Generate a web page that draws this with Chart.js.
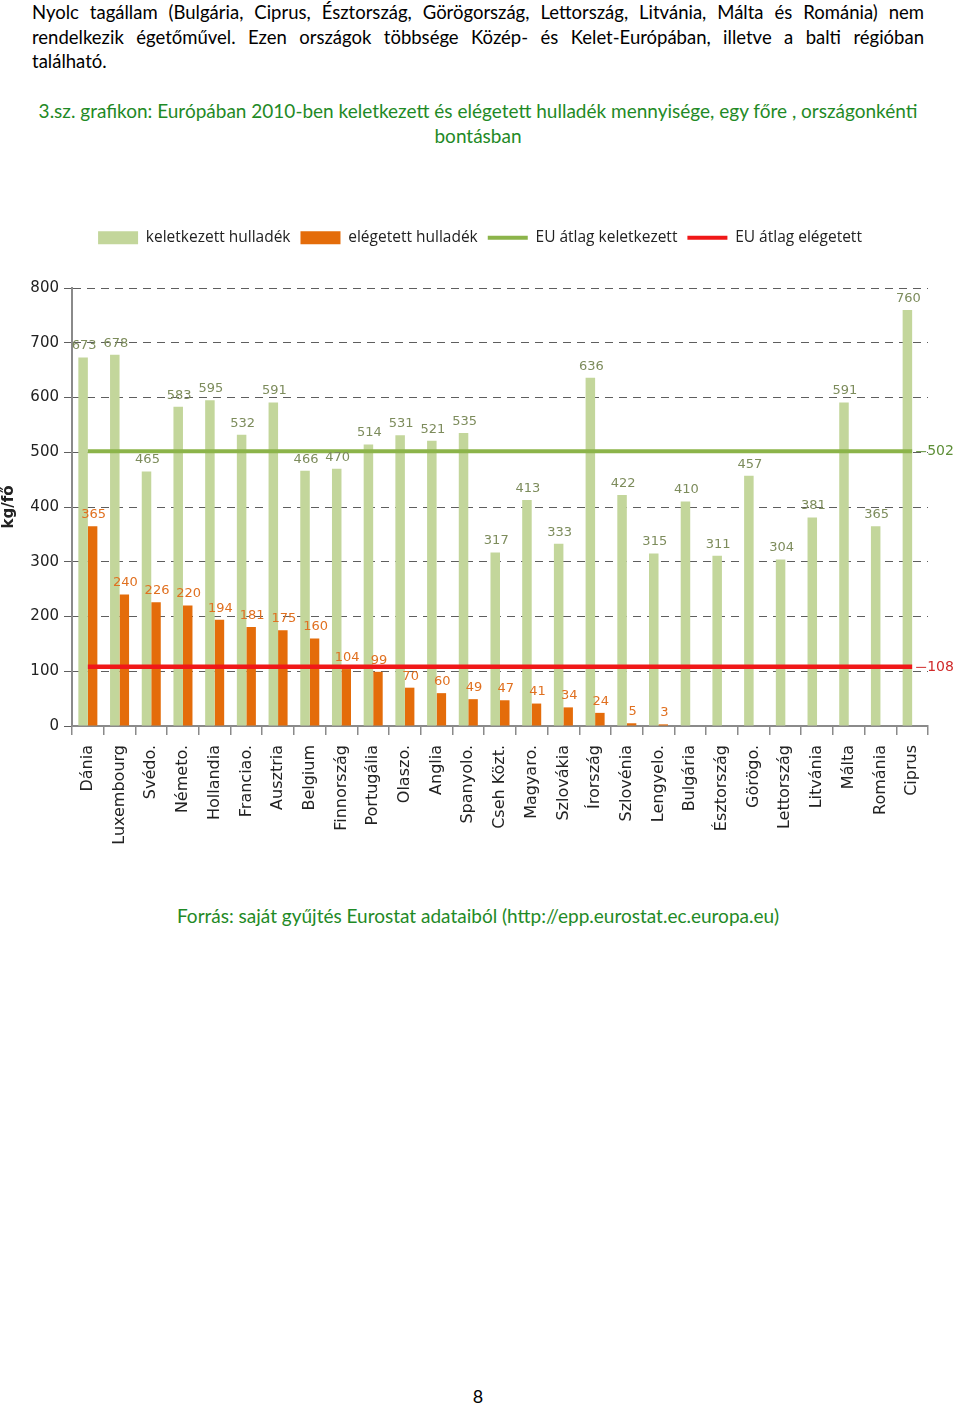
<!DOCTYPE html>
<html lang="hu">
<head>
<meta charset="utf-8">
<script src="https://cdn.jsdelivr.net/npm/chart.js@4.4.1/dist/chart.umd.min.js"></script>
<style>
  html, body { margin: 0; padding: 0; background: #fff; }
  body { width: 960px; height: 1408px; position: relative; font-family: Lato, "Open Sans", sans-serif; }
  .para { position: absolute; left: 32px; width: 892px; top: 0px; font-size: 18.5px; line-height: 24.5px; color: #000; }
  .para div { text-align: justify; text-align-last: justify; }
  .para div.last { text-align-last: left; }
  .title { position: absolute; left: 0; width: 956px; top: 98px; text-align: center; font-size: 19px; line-height: 25px; color: #1f8a26; }
  .source { position: absolute; left: 0; width: 956px; top: 904px; text-align: center; font-size: 19px; color: #1f8a26; }
  .pagenum { position: absolute; left: 0; width: 956px; top: 1385px; text-align: center; font-size: 18px; color: #000; }
  #wrap { position: absolute; left: 0; top: 220px; width: 960px; height: 641px; }
</style>
</head>
<body>
<div class="para">
  <div>Nyolc tagállam (Bulgária, Ciprus, Észtország, Görögország, Lettország, Litvánia, Málta és Románia) nem</div>
  <div>rendelkezik égetőművel. Ezen országok többsége Közép- és Kelet-Európában, illetve a balti régióban</div>
  <div class="last">található.</div>
</div>
<div class="title">3.sz. grafikon: Európában 2010-ben keletkezett és elégetett hulladék mennyisége, egy főre , országonkénti<br>bontásban</div>
<div id="wrap"><canvas id="c" width="960" height="641"></canvas></div>
<div class="source">Forrás: saját gyűjtés Eurostat adataiból (http://epp.eurostat.ec.europa.eu)</div>
<div class="pagenum">8</div>

<script>
// orszagok
const countries = ["Dánia","Luxembourg","Svédo.","Németo.","Hollandia","Franciao.","Ausztria","Belgium","Finnország","Portugália","Olaszo.","Anglia","Spanyolo.","Cseh Közt.","Magyaro.","Szlovákia","Írország","Szlovénia","Lengyelo.","Bulgária","Észtország","Görögo.","Lettország","Litvánia","Málta","Románia","Ciprus"];
const generated = [673,678,465,583,595,532,591,466,470,514,531,521,535,317,413,333,636,422,315,410,311,457,304,381,591,365,760];
const incinerated = [365,240,226,220,194,181,175,160,104,99,70,60,49,47,41,34,24,5,3,null,null,null,null,null,null,null,null];
const euAvgGenerated = 502;
const euAvgIncinerated = 108;
const yTicks = [0,100,200,300,400,500,600,700,800];

const cGen = "#c3d69b", cInc = "#e46c0a", cAvgGen = "#8cb44a", cAvgInc = "#f01818";
const FONT = "'DejaVu Sans', sans-serif";

const valueLabels = {
  id: "valueLabels",
  afterDatasetsDraw(chart) {
    const ctx = chart.ctx;
    ctx.save();
    ctx.font = "13px " + FONT;
    ctx.textAlign = "center";
    ctx.textBaseline = "bottom";
    [[0, "#7d8c5c"], [1, "#e07020"]].forEach(([di, col]) => {
      const meta = chart.getDatasetMeta(di);
      const data = chart.data.datasets[di].data;
      ctx.fillStyle = col;
      meta.data.forEach((el, i) => {
        if (data[i] == null) return;
        ctx.fillText(String(data[i]), el.x + 1, el.y - 5);
      });
    });
    // EU atlag cimkek a jobb szelen
    [[2, euAvgGenerated, "#5e8f38"], [3, euAvgIncinerated, "#d02a2a"]].forEach(([di, v, col]) => {
      const meta = chart.getDatasetMeta(di);
      const last = meta.data[meta.data.length - 1];
      const y = chart.scales.y.getPixelForValue(v);
      ctx.strokeStyle = col;
      ctx.lineWidth = 1;
      ctx.beginPath();
      ctx.moveTo(last.x + 4, y + 0.5);
      ctx.lineTo(last.x + 14, y + 0.5);
      ctx.stroke();
      ctx.fillStyle = col;
      ctx.textAlign = "left";
      ctx.textBaseline = "middle";
      ctx.font = "14px " + FONT;
      ctx.fillText(String(v), last.x + 15, y);
    });
    ctx.restore();
  }
};

const legendSpace = {
  id: "legendSpace",
  beforeInit(chart) {
    const orig = chart.legend.fit;
    chart.legend.fit = function () {
      orig.bind(chart.legend)();
      this.height = 68;
    };
  }
};

new Chart(document.getElementById("c"), {
  type: "bar",
  data: {
    labels: countries,
    datasets: [
      { label: "keletkezett hulladék", data: generated, backgroundColor: cGen, order: 2,
        categoryPercentage: 0.6, barPercentage: 1.0 },
      { label: "elégetett hulladék", data: incinerated, backgroundColor: cInc, order: 2,
        categoryPercentage: 0.6, barPercentage: 1.0 },
      { type: "line", label: "EU átlag keletkezett", data: countries.map(() => euAvgGenerated),
        borderColor: cAvgGen, backgroundColor: cAvgGen, borderWidth: 4, pointRadius: 0, order: 1 },
      { type: "line", label: "EU átlag elégetett", data: countries.map(() => euAvgIncinerated),
        borderColor: cAvgInc, backgroundColor: cAvgInc, borderWidth: 4.5, pointRadius: 0, order: 0 }
    ]
  },
  options: {
    responsive: false,
    animation: false,
    devicePixelRatio: 1,
    layout: { padding: 0 },
    plugins: {
      tooltip: { enabled: false },
      legend: {
        position: "top",
        labels: {
          usePointStyle: true,
          pointStyleWidth: 40,
          boxHeight: 13,
          padding: 10,
          color: "#222",
          font: { family: "'Open Sans', sans-serif", size: 15.5 },
          sort: (a, b) => a.datasetIndex - b.datasetIndex,
          generateLabels(chart) {
            return chart.data.datasets.map((ds, i) => {
              const isLine = ds.type === "line";
              return {
                text: ds.label,
                datasetIndex: i,
                fillStyle: ds.backgroundColor,
                strokeStyle: isLine ? ds.borderColor : ds.backgroundColor,
                lineWidth: isLine ? 4 : 0,
                pointStyle: isLine ? "line" : "rect",
                hidden: false,
                fontColor: "#222"
              };
            });
          }
        }
      }
    },
    scales: {
      x: {
        grid: { drawOnChartArea: false, drawTicks: true, tickLength: 9, color: "#8a8a8a", lineWidth: 1.5 },
        border: { display: true, color: "#8a8a8a", width: 2 },
        ticks: { minRotation: 90, maxRotation: 90, autoSkip: false, color: "#222",
          font: { family: FONT, size: 16 }, padding: 10 },
        afterFit(s) { s.height = 135; }
      },
      y: {
        min: 0, max: 800,
        afterBuildTicks(s) { s.ticks = yTicks.map(v => ({ value: v })); },
        grid: { color: "#5e5e5e", lineWidth: 1, tickLength: 8 },
        border: { display: true, color: "#8a8a8a", width: 2, dash: [8, 6] },
        ticks: { color: "#222", font: { family: FONT, size: 15 }, padding: 5 },
        title: { display: true, text: "kg/fő", color: "#222", font: { family: FONT, size: 15, weight: "bold" }, padding: 0 },
        afterFit(s) { s.width = 72; }
      },
      y2: {
        position: "right",
        display: true,
        grid: { display: false, drawTicks: false },
        border: { display: false },
        ticks: { display: false },
        afterFit(s) { s.width = 32; }
      }
    }
  },
  plugins: [valueLabels, legendSpace]
});
</script>
</body>
</html>
